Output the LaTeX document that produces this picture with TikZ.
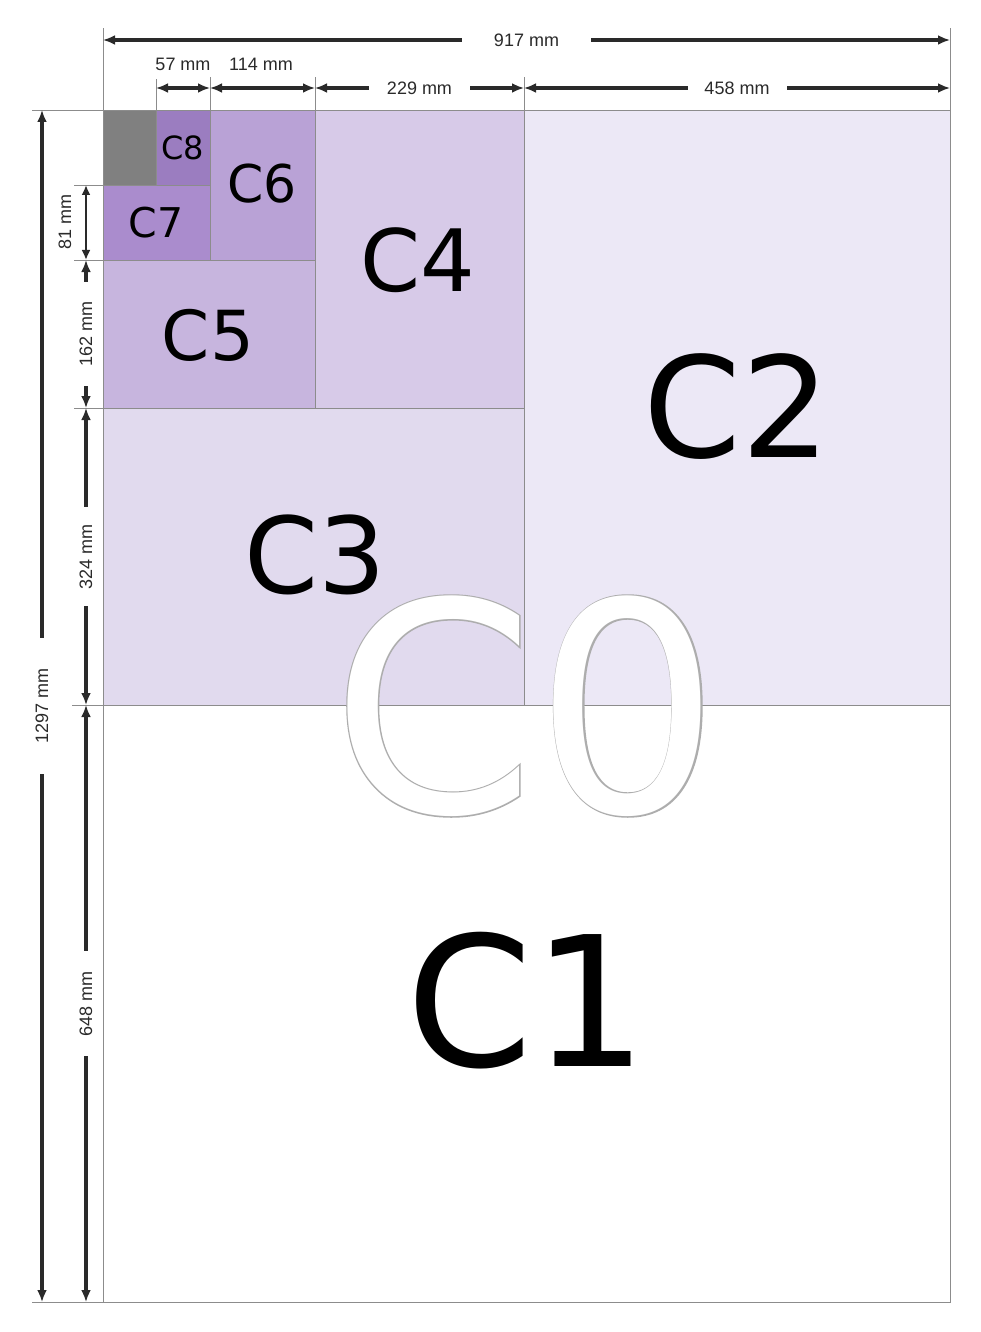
\documentclass[tikz,border=0pt]{standalone}
\usepackage{fontspec}
\setmainfont{DejaVu Sans}
\newfontfamily\dimfont{Liberation Sans}
\newfontfamily\zerobold[FakeBold=0.9]{DejaVu Sans}
\usetikzlibrary{arrows.meta}
\definecolor{cgray}{HTML}{808080}
\definecolor{ceight}{HTML}{9B7DC0}
\definecolor{cseven}{HTML}{AA8CCD}
\definecolor{csix}{HTML}{B9A2D6}
\definecolor{cfive}{HTML}{C7B5DE}
\definecolor{cfour}{HTML}{D7CAE8}
\definecolor{cthree}{HTML}{E1DAEE}
\definecolor{ctwo}{HTML}{ECE8F6}
\definecolor{edge}{HTML}{8C8C8C}
\definecolor{dimcol}{HTML}{2A2A2A}
\tikzset{
  sheet/.style={draw=edge, line width=0.9pt},
  extline/.style={draw=edge, line width=0.8pt},
  dimline/.style={draw=dimcol, line width=3.6pt, {Latex[length=12pt,width=10pt]}-{Latex[length=12pt,width=10pt]}},
  dimthin/.style={draw=dimcol, line width=2.2pt, {Latex[length=10pt,width=9pt]}-{Latex[length=10pt,width=9pt]}},
  dimtext/.style={font=\dimfont\fontsize{18}{18}\selectfont, text=dimcol, fill=white, inner ysep=2pt},
  sizelabel/.style={inner sep=0pt, text=black}
}
\newcommand{\fs}[1]{\fontsize{#1}{#1}\selectfont}
\begin{document}
\begin{tikzpicture}[x=1pt,y=-1pt]
\path[use as bounding box, fill=white] (0,0) rectangle (980,1332);
% sheets
\path[sheet, fill=white]  (103,705) rectangle (950,1302);
\path[sheet, fill=ctwo]   (524,110) rectangle (950,705);
\path[sheet, fill=cthree] (103,408) rectangle (524,705);
\path[sheet, fill=cfour]  (315,110) rectangle (524,408);
\path[sheet, fill=cfive]  (103,260) rectangle (315,408);
\path[sheet, fill=csix]   (210,110) rectangle (315,260);
\path[sheet, fill=cseven] (103,185) rectangle (210,260);
\path[sheet, fill=ceight] (156,110) rectangle (210,185);
\path[sheet, fill=cgray]  (103,110) rectangle (156,185);
% coordinates
\coordinate (xa) at (103,110);
\coordinate (xb) at (156,110);
\coordinate (xc) at (210,110);
\coordinate (xd) at (315,110);
\coordinate (xe) at (524,110);
\coordinate (xf) at (950,110);
\coordinate (ya) at (103,110);
\coordinate (yb) at (103,185);
\coordinate (yc) at (103,260);
\coordinate (yd) at (103,408);
\coordinate (ye) at (103,705);
\coordinate (yf) at (103,1302);
% extension lines
\draw[extline] (xa) -- (103,28);
\draw[extline] (xf) -- (950,28);
\draw[extline] (xb) -- (156,79);
\draw[extline] (xc) -- (210,77);
\draw[extline] (xd) -- (315,77);
\draw[extline] (xe) -- (524,77);
\draw[extline] (ya) -- (32,110);
\draw[extline] (yb) -- (74,185);
\draw[extline] (yc) -- (74,260);
\draw[extline] (yd) -- (74,408);
\draw[extline] (ye) -- (72,705);
\draw[extline] (yf) -- (32,1302);
% horizontal dimensions
\coordinate (t1) at (103,40);  \coordinate (t2) at (950,40);
\draw[dimline] (t1) -- (t2) node[midway, dimtext, inner xsep=32pt] (l917) {917 mm};
\coordinate (h1) at (156,88); \coordinate (h2) at (210,88); \coordinate (h3) at (315,88);
\coordinate (h4) at (524,88); \coordinate (h5) at (950,88);
\draw[dimline] (h1) -- (h2);
\draw[dimline] (h2) -- (h3);
\draw[dimline] (h3) -- (h4) node[midway, dimtext, inner xsep=18pt] (l229) {229 mm};
\draw[dimline] (h4) -- (h5) node[midway, dimtext, inner xsep=17pt] (l458) {458 mm};
\node[dimtext] (l57) at (183,64) {57 mm};
\node[dimtext] (l114) at (261,64) {114 mm};
% vertical dimensions
\coordinate (v1) at (42,110); \coordinate (v2) at (42,1302);
\draw[dimline] (v1) -- (v2) node[pos=0.5, dimtext, rotate=90, inner xsep=30pt] (l1297) {1297 mm};
\coordinate (w1) at (86,185); \coordinate (w2) at (86,260); \coordinate (w3) at (86,408);
\coordinate (w4) at (86,705); \coordinate (w5) at (86,1302);
\draw[dimthin] (w1) -- (w2);
\node[dimtext, rotate=90, fill=none] (l81) at (65,222) {81 mm};
\draw[dimline] (w2) -- (w3) node[midway, dimtext, rotate=90, inner xsep=19pt] (l162) {162 mm};
\draw[dimline] (w3) -- (w4) node[midway, dimtext, rotate=90, inner xsep=17pt] (l324) {324 mm};
\draw[dimline] (w4) -- (w5) node[midway, dimtext, rotate=90, inner xsep=20pt] (l648) {648 mm};
% size labels
\node[sizelabel, font=\fs{32}] (c8) at (183,148) {C8};
\node[sizelabel, font=\fs{41}] (c7) at (156,223) {C7};
\node[sizelabel, font=\fs{52}] (c6) at (262,184) {C6};
\node[sizelabel, font=\fs{69}] (c5) at (208,335) {C5};
\node[sizelabel, font=\fs{86}] (c4) at (418,260) {C4};
\node[sizelabel, font=\fs{106}] (c3) at (315,555) {C3};
\node[sizelabel, font=\fs{140}] (c2) at (737,407) {C2};
\node[sizelabel, font=\fs{181}] (c1) at (527,1001) {C1};
\node[sizelabel, font=\zerobold\fs{292}, text=black!32] (c0o) at (526,706) {C0};
\node[sizelabel, font=\fs{292}, text=white] (c0) at (c0o.center) {C0};
\end{tikzpicture}
\end{document}
